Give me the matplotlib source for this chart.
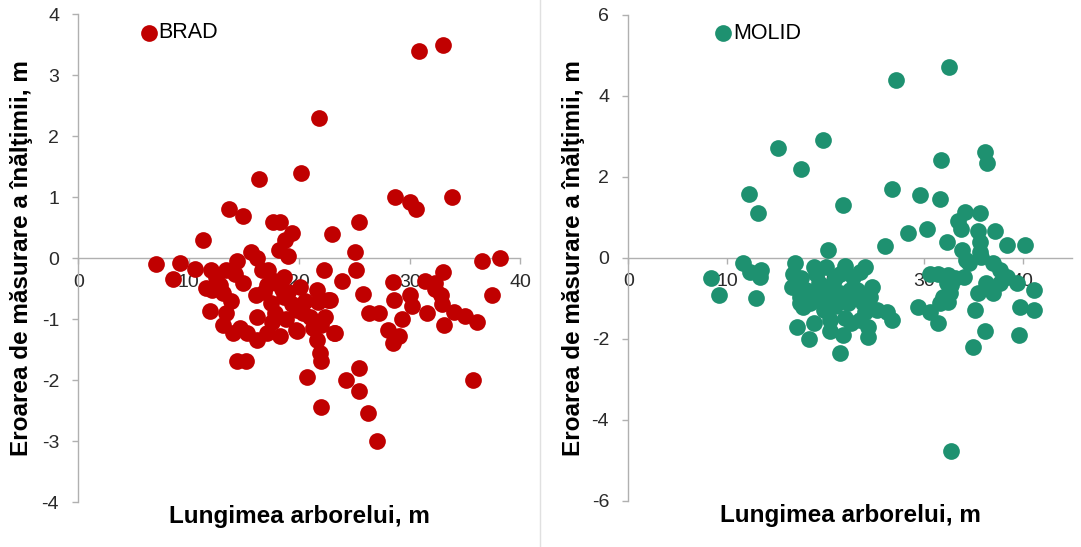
import matplotlib
matplotlib.use("Agg")
import matplotlib.pyplot as plt
from matplotlib.lines import Line2D

plt.rcParams["font.family"] = ["Liberation Sans", "DejaVu Sans"]
plt.rcParams["axes.unicode_minus"] = False

RED, GREEN = "#c00000", "#1e9170"
AXIS, TEXT = "#b0b0b0", "#2a2a2a"

# BRAD: tree length (m) vs height measurement error (m)
brad_x = [33.0, 30.8, 21.8, 20.2, 16.4, 28.7, 33.8, 30.0, 30.6, 13.6,
          14.9, 17.6, 18.3, 25.4, 19.3, 23.0, 11.3, 18.7, 18.2, 19.0,
          25.0, 15.6, 16.2, 38.2, 36.5, 7.0, 9.2, 14.4, 10.6, 12.0,
          13.4, 16.6, 22.2, 25.1, 33.0, 8.6, 23.9, 28.5, 31.4, 32.3,
          37.4, 25.8, 28.6, 30.0, 30.2, 32.8, 32.9, 31.6, 34.0, 35.0,
          36.1, 33.1, 29.3, 26.3, 27.2, 28.0, 28.5, 29.0, 35.7, 20.7,
          22.0, 24.2, 25.4, 25.4, 26.2, 27.0, 14.4, 15.2, 21.9, 22.0,
          23.25, 19.7,
          18.6, 11.6, 12.8, 14.9, 17.1, 18.0, 20.1, 21.6, 22.6, 21.7,
          11.9, 13.4, 16.1, 17.4, 18.6, 19.8, 21.0, 22.3, 16.2, 14.6,
          13.1, 14.0, 15.25, 16.2, 17.1, 18.3, 19.8, 21.6, 23.1, 12.1,
          13.1, 22.8, 14.2, 16.8, 17.8, 18.8, 19.3, 20.5, 21.2, 13.8,
          12.5, 17.5, 20.3, 22.0, 19.0, 17.2, 17.5, 18.4, 32.3]
brad_y = [3.5, 3.4, 2.3, 1.4, 1.3, 1.0, 1.0, 0.92, 0.8, 0.8,
          0.7, 0.6, 0.6, 0.6, 0.42, 0.4, 0.3, 0.3, 0.13, 0.03,
          0.11, 0.11, 0.0, 0.0, -0.04, -0.1, -0.08, -0.04, -0.18, -0.19,
          -0.19, -0.2, -0.19, -0.19, -0.23, -0.34, -0.38, -0.39, -0.38, -0.4,
          -0.6, -0.59, -0.68, -0.6, -0.79, -0.6, -0.75, -0.89, -0.88, -0.95,
          -1.05, -1.09, -1.0, -0.89, -0.89, -1.18, -1.39, -1.28, -2.0, -1.94,
          -2.43, -2.0, -1.8, -2.18, -2.54, -3.0, -1.68, -1.68, -1.56, -1.68,
          -1.23, -1.17,
          -0.3, -0.49, -0.44, -0.41, -0.44, -0.41, -0.47, -0.52, -0.68, -0.71,
          -0.86, -0.9, -0.6, -0.74, -0.63, -0.85, -0.96, -0.96, -0.96, -1.15,
          -1.09, -1.23, -1.23, -1.34, -1.23, -1.28, -1.2, -1.34, -1.23, -0.52,
          -0.57, -0.68, -0.25, -0.55, -0.9, -1.0, -0.75, -0.7, -1.15, -0.7,
          -0.3, -1.05, -0.9, -1.1, -0.55, -0.2, -0.35, -0.5, -0.5]

# MOLID
molid_x = [32.5, 27.2, 19.7, 15.2, 17.5, 31.75, 36.2, 36.4, 12.2, 13.2,
           21.8, 26.7, 29.6, 31.6, 34.1, 35.7, 33.4, 33.75, 35.5, 37.2,
           28.4, 30.3, 32.3, 26.0, 38.4, 40.2, 20.3, 35.7, 35.7, 33.8,
           34.2, 34.6, 35.8,
           11.6, 12.3, 13.5, 13.4, 8.4, 9.2, 13.0,
           37.0, 37.7, 38.4, 39.4, 41.1, 39.7, 41.1, 39.6, 36.2, 35.0,
           35.2, 32.7,
           35.5, 36.3, 37.0, 37.7, 32.4, 33.1, 34.0, 30.6, 31.4, 32.3,
           31.9, 32.6, 31.6, 29.4, 30.6, 31.4, 32.4, 32.7,
           16.9, 16.7, 16.6, 17.4, 17.7, 17.1, 18.8, 18.3, 18.8, 20.1,
           22.0, 24.0, 19.3, 20.8, 21.5, 22.8, 24.7, 20.8, 22.3, 21.5,
           19.4, 18.4, 20.5, 21.8, 21.5, 23.8, 23.5, 24.3, 24.3, 25.2,
           26.2, 26.7, 24.5, 23.2, 17.4,
           19.0, 20.0, 21.0, 22.5, 23.0, 21.0, 19.8, 22.0, 18.0, 23.5,
           17.5, 20.5, 22.6, 18.6, 24.0]
molid_y = [4.7, 4.4, 2.9, 2.7, 2.2, 2.41, 2.6, 2.33, 1.58, 1.1,
           1.3, 1.7, 1.55, 1.45, 1.12, 1.1, 0.91, 0.7, 0.65, 0.65,
           0.6, 0.7, 0.4, 0.3, 0.31, 0.31, 0.2, 0.4, 0.15, 0.2,
           -0.06, -0.14, 0.02,
           -0.14, -0.35, -0.3, -0.47, -0.49, -0.92, -1.0,
           -0.14, -0.3, -0.47, -0.63, -0.8, -1.21, -1.29, -1.91, -1.81, -2.2,
           -1.29, -4.78,
           -0.88, -0.63, -0.88, -0.63, -0.42, -0.5, -0.47, -0.41, -0.39, -0.63,
           -0.96, -0.88, -1.13, -1.21, -1.33, -1.62, -1.1, -0.68,
           -0.14, -0.39, -0.72, -0.96, -1.21, -1.7, -1.62, -2.0, -0.22, -0.22,
           -0.2, -0.22, -0.63, -0.63, -0.39, -0.47, -0.72, -1.13, -1.13, -0.88,
           -1.05, -1.13, -1.54, -1.91, -2.36, -1.13, -1.54, -1.7, -1.95, -1.29,
           -1.33, -1.54, -0.96, -0.8, -1.13,
           -0.4, -0.9, -1.2, -0.8, -1.0, -0.5, -1.3, -1.5, -0.8, -0.35,
           -0.5, -1.8, -1.6, -0.9, -1.35]

x_ticks = [0, 10, 20, 30, 40]
brad_yticks = [-4, -3, -2, -1, 0, 1, 2, 3, 4]
molid_yticks = [-6, -4, -2, 0, 2, 4, 6]

y_title = "Eroarea de măsurare a înălţimii, m"
x_title = "Lungimea arborelui, m"


def style(ax, xlim, ylim, yticks):
    ax.set_xlim(*xlim)
    ax.set_ylim(*ylim)
    ax.set_xticks(x_ticks)
    ax.set_yticks(yticks)
    ax.set_facecolor("none")
    for s in ("top", "right"):
        ax.spines[s].set_visible(False)
    for s in ("bottom", "left"):
        ax.spines[s].set_position(("data", 0))
        ax.spines[s].set_color(AXIS)
        ax.spines[s].set_linewidth(1.0)
    ax.tick_params(colors=AXIS, labelcolor=TEXT, labelsize=14,
                   length=4.3, width=1.0, direction="out")
    ax.tick_params(axis="y", pad=9.5)
    ax.tick_params(axis="x", pad=7)
    ax.set_ylabel(y_title, fontsize=17.5, fontweight="bold", color="black")
    ax.set_xlabel(x_title, fontsize=17.5, fontweight="bold", color="black")
    ax.xaxis.set_label_coords(0.5, -0.006)


fig = plt.figure(figsize=(10.81, 5.47), dpi=100)
ax1 = fig.add_axes([0.0724, 0.0817, 0.4089, 0.8922])
ax2 = fig.add_axes([0.5812, 0.0846, 0.4105, 0.8885])

ax1.scatter(brad_x, brad_y, s=145, color=RED, linewidths=0, label="BRAD", zorder=3)
style(ax1, (0, 40), (-4, 4), brad_yticks)
ax1.yaxis.set_label_coords(-0.102, 0.5)
ax1.legend(loc="center left", bbox_to_anchor=(0.14, 0.962), frameon=False,
           handlelength=0.8, handletextpad=0.05, borderaxespad=0, borderpad=0,
           fontsize=15.5, scatterpoints=1)

ax2.scatter(molid_x, molid_y, s=145, color=GREEN, linewidths=0, label="MOLID", zorder=3)
style(ax2, (0, 45), (-6, 6), molid_yticks)
ax2.yaxis.set_label_coords(-0.097, 0.5)
ax2.legend(loc="center left", bbox_to_anchor=(0.195, 0.962), frameon=False,
           handlelength=0.8, handletextpad=0.05, borderaxespad=0, borderpad=0,
           fontsize=15.5, scatterpoints=1)

# thin divider between the two panels
fig.add_artist(Line2D([0.4995, 0.4995], [0, 1], color="#e0e0e0", lw=1))

fig.savefig("out.png", dpi=100)
